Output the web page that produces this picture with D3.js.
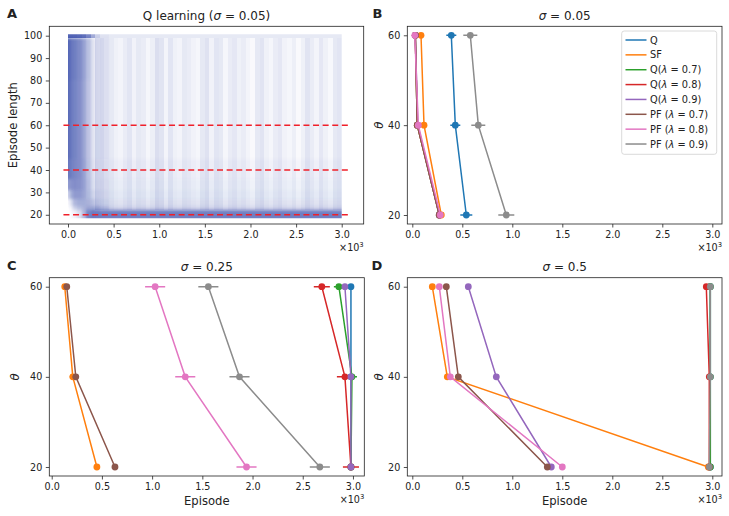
<!DOCTYPE html>
<html>
<head>
<meta charset="utf-8">
<script src="https://cdn.jsdelivr.net/npm/d3@7"></script>
<style>
  body { margin: 0; background: #fff; }
  svg { display: block; font-family: "DejaVu Sans", sans-serif; }
</style>
</head>
<body>
<svg id="chart" width="729" height="516"></svg>
<script>
// ---- data ----
const thetas = [60, 40, 20];
const seriesNames = ["Q", "SF", "Q(λ = 0.7)", "Q(λ = 0.8)", "Q(λ = 0.9)",
  "PF (λ = 0.7)", "PF (λ = 0.8)", "PF (λ = 0.9)"];
const seriesColors = ["#1f77b4", "#ff7f0e", "#2ca02c", "#d62728", "#9467bd",
  "#8c564b", "#e377c2", "#8c8c8c"];

// mean episode (x10^3) at theta = 60, 40, 20
const meanSigma005 = [
  [0.39, 0.43, 0.54], [0.087, 0.117, 0.29], [0.03, 0.05, 0.27], [0.03, 0.05, 0.27],
  [0.03, 0.055, 0.27], [0.03, 0.05, 0.27], [0.025, 0.06, 0.28], [0.58, 0.66, 0.94]
];
const errSigma005 = [
  [0.05, 0.05, 0.06], [0.02, 0.02, 0.02], [0.01, 0.01, 0.02], [0.01, 0.01, 0.02],
  [0.01, 0.01, 0.02], [0.01, 0.01, 0.02], [0.01, 0.01, 0.02], [0.07, 0.07, 0.08]
];
const meanSigma025 = [
  [2.98, 2.98, 2.98], [0.13, 0.21, 0.45], [2.86, 2.99, 2.98], [2.69, 2.92, 2.98],
  [2.92, 2.98, 2.98], [0.15, 0.24, 0.63], [1.03, 1.33, 1.94], [1.56, 1.87, 2.67]
];
const errSigma025 = [
  [0.02, 0.02, 0.02], [0.02, 0.03, 0.03], [0.05, 0.05, 0.02], [0.08, 0.08, 0.08],
  [0.03, 0.02, 0.02], [0.02, 0.03, 0.03], [0.1, 0.1, 0.1], [0.1, 0.1, 0.1]
];
const meanSigma05 = [
  [2.98, 2.98, 2.98], [0.20, 0.35, 2.96], [2.98, 2.98, 2.98], [2.94, 2.97, 2.97],
  [0.56, 0.84, 1.39], [0.34, 0.46, 1.35], [0.27, 0.38, 1.50], [2.98, 2.98, 2.97]
];
const errSigma05 = [
  [0.01, 0.01, 0.01], [0.02, 0.02, 0.02], [0.01, 0.01, 0.01], [0.01, 0.01, 0.01],
  [0.02, 0.02, 0.02], [0.02, 0.02, 0.02], [0.02, 0.02, 0.02], [0.01, 0.01, 0.01]
];

// panel A: density of Q-learning runs (opacity), episode-length bands x episode bins
const lengthBandEdges = [18.5, 22, 24, 27, 31, 36, 45, 60, 80, 99];
const episodeBinEdges = [0, 0.025, 0.05, 0.1, 0.15, 0.2, 0.25, 0.3, 0.35, 0.45, 3.0];
const bandDensity = [
  [0.00, 0.02, 0.08, 0.18, 0.40, 0.68, 0.74, 0.72, 0.70, 0.70], // 18.5-22
  [0.00, 0.08, 0.25, 0.35, 0.42, 0.50, 0.50, 0.42, 0.30, 0.18], // 22-24
  [0.05, 0.20, 0.40, 0.45, 0.45, 0.42, 0.35, 0.22, 0.15, 0.10], // 24-27
  [0.25, 0.45, 0.55, 0.55, 0.50, 0.38, 0.24, 0.14, 0.10, 0.06], // 27-31
  [0.55, 0.60, 0.62, 0.60, 0.52, 0.36, 0.20, 0.10, 0.07, 0.04], // 31-36
  [0.75, 0.70, 0.66, 0.62, 0.52, 0.34, 0.18, 0.08, 0.05, 0.02], // 36-45
  [0.80, 0.72, 0.68, 0.62, 0.50, 0.32, 0.16, 0.06, 0.03, 0.00], // 45-60
  [0.82, 0.74, 0.68, 0.62, 0.50, 0.32, 0.16, 0.05, 0.02, 0.00], // 60-80
  [0.84, 0.76, 0.70, 0.64, 0.52, 0.34, 0.16, 0.05, 0.02, 0.00]  // 80-99
];
// the capped runs at length 100, same episode bins
const cappedDensity = [0.85, 0.85, 0.84, 0.82, 0.78, 0.66, 0.45, 0.25, 0.16, 0.12];
// vertical streak strength, 0.05-wide episode bins from 0.3 to 3.0
const streakStrength = [
  0.18, 0.20, 0.15, 0.12, 0.08, 0.06, 0.10, 0.14, 0.07, 0.12,
  0.10, 0.05, 0.09, 0.18, 0.15, 0.06, 0.14, 0.08, 0.06, 0.12,
  0.10, 0.07, 0.05, 0.12, 0.16, 0.07, 0.14, 0.12, 0.05, 0.10,
  0.13, 0.08, 0.10, 0.06, 0.03, 0.12, 0.15, 0.08, 0.05, 0.10,
  0.13, 0.07, 0.05, 0.09, 0.03, 0.08, 0.15, 0.10, 0.06, 0.13,
  0.08, 0.04, 0.12, 0.14
];
const thresholds = [20, 40, 60];
const episodeTicks = [0, 0.5, 1.0, 1.5, 2.0, 2.5, 3.0];
const lengthTicks = [20, 30, 40, 50, 60, 70, 80, 90, 100];

// ---- drawing ----
const svg = d3.select("#chart");
const ink = "#222";
const runBlue = "#3549a8";

function richText(sel, str) {
  str.split(/([σλθ])/).filter(s => s.length).forEach(s => {
    sel.append("tspan").attr("font-style", /[σλθ]/.test(s) ? "italic" : null).text(s);
  });
  return sel;
}

function makePanel(id, x0, x1, y0, y1, xDom, yDom) {
  const x = d3.scaleLinear().domain(xDom).range([x0, x1]);
  const y = d3.scaleLinear().domain(yDom).range([y1, y0]);
  svg.append("clipPath").attr("id", "clip" + id)
    .append("rect").attr("x", x0).attr("y", y0).attr("width", x1 - x0).attr("height", y1 - y0);
  const g = svg.append("g").attr("clip-path", `url(#clip${id})`);
  return { id, x0, x1, y0, y1, x, y, g };
}

function finishPanel(p, yTicks, letter, title, xLabel, yLabel, yLabelX) {
  const gx = svg.append("g").attr("transform", `translate(0,${p.y1})`)
    .call(d3.axisBottom(p.x).tickValues(episodeTicks).tickSize(3.5).tickPadding(3.5)
      .tickFormat(d3.format(".1f")));
  const gy = svg.append("g").attr("transform", `translate(${p.x0},0)`)
    .call(d3.axisLeft(p.y).tickValues(yTicks).tickSize(3.5).tickPadding(3.5)
      .tickFormat(d3.format("d")));
  [gx, gy].forEach(a => {
    a.select(".domain").remove();
    a.selectAll("line").attr("stroke", ink).attr("stroke-width", 0.8);
    a.selectAll("text").attr("fill", ink).attr("font-size", 9.6)
      .attr("font-family", "DejaVu Sans");
  });
  svg.append("rect").attr("x", p.x0).attr("y", p.y0)
    .attr("width", p.x1 - p.x0).attr("height", p.y1 - p.y0)
    .attr("fill", "none").attr("stroke", ink).attr("stroke-width", 0.8);

  // offset text x10^3
  const off = svg.append("text").attr("x", p.x1).attr("y", p.y1 + 27)
    .attr("text-anchor", "end").attr("font-size", 9.6).attr("fill", ink);
  off.append("tspan").text("×10");
  off.append("tspan").attr("font-size", 6.8).attr("dy", -4).text("3");

  richText(svg.append("text").attr("x", (p.x0 + p.x1) / 2).attr("y", p.y0 - 6.5)
    .attr("text-anchor", "middle").attr("font-size", 12).attr("fill", ink), title);
  svg.append("text").attr("class", "letter").attr("x", letter.x).attr("y", letter.y)
    .attr("font-size", 13).attr("font-weight", "bold").attr("fill", ink).text(letter.t);
  if (xLabel) {
    svg.append("text").attr("x", (p.x0 + p.x1) / 2).attr("y", p.y1 + 28.5)
      .attr("text-anchor", "middle").attr("font-size", 11.6).attr("fill", ink).text(xLabel);
  }
  richText(svg.append("text")
    .attr("transform", `translate(${yLabelX},${(p.y0 + p.y1) / 2}) rotate(-90)`)
    .attr("text-anchor", "middle").attr("font-size", 11.6).attr("fill", ink), yLabel);
}

// ---- panel A ----
const pA = makePanel("A", 49.3, 363.7, 26.3, 224, [-0.205, 3.241], [15.88, 104.2]);
const defs = svg.append("defs");
defs.append("filter").attr("id", "soft").attr("x", "-5%").attr("y", "-5%")
  .attr("width", "110%").attr("height", "110%")
  .append("feGaussianBlur").attr("stdDeviation", "1.2 1.6");
defs.append("clipPath").attr("id", "runArea").append("rect")
  .attr("x", pA.x(0)).attr("width", pA.x(3) - pA.x(0))
  .attr("y", pA.y(100.6)).attr("height", pA.y(18.5) - pA.y(100.6));

const runArea = pA.g.append("g").attr("clip-path", "url(#runArea)");
const dens = runArea.append("g").attr("filter", "url(#soft)");
lengthBandEdges.slice(0, -1).forEach((lo, bi) => {
  const hi = lengthBandEdges[bi + 1];
  episodeBinEdges.slice(0, -1).forEach((e0, ci) => {
    const e1 = episodeBinEdges[ci + 1];
    const o = bandDensity[bi][ci];
    if (o <= 0) return;
    // edge bins are stretched outward so the blur does not fade the clipped borders
    const xa = ci === 0 ? -0.1 : e0, xb = ci === episodeBinEdges.length - 2 ? 3.1 : e1;
    const ya = bi === 0 ? 16 : lo;
    dens.append("rect").attr("shape-rendering", "crispEdges")
      .attr("x", pA.x(xa)).attr("width", pA.x(xb) - pA.x(xa))
      .attr("y", pA.y(hi)).attr("height", pA.y(ya) - pA.y(hi))
      .attr("fill", runBlue).attr("fill-opacity", o);
  });
});
runArea.selectAll("rect.streak").data(streakStrength).join("rect")
  .attr("class", "streak").attr("shape-rendering", "crispEdges")
  .attr("x", (d, i) => pA.x(0.3 + i * 0.05))
  .attr("width", pA.x(0.05) - pA.x(0))
  .attr("y", pA.y(99)).attr("height", pA.y(22) - pA.y(99))
  .attr("fill", runBlue).attr("fill-opacity", d => d);
runArea.selectAll("rect.cap").data(cappedDensity).join("rect")
  .attr("class", "cap").attr("shape-rendering", "crispEdges")
  .attr("x", (d, i) => pA.x(episodeBinEdges[i]))
  .attr("width", (d, i) => pA.x(episodeBinEdges[i + 1]) - pA.x(episodeBinEdges[i]))
  .attr("y", pA.y(100.6)).attr("height", pA.y(99) - pA.y(100.6))
  .attr("fill", runBlue).attr("fill-opacity", d => d);

pA.g.selectAll("line.thr").data(thresholds).join("line")
  .attr("class", "thr")
  .attr("x1", pA.x(-0.05)).attr("x2", pA.x(3.1))
  .attr("y1", d => pA.y(d)).attr("y2", d => pA.y(d))
  .attr("stroke", "#f0202a").attr("stroke-width", 1.6).attr("stroke-dasharray", "6,3.6");
finishPanel(pA, lengthTicks, { x: 7, y: 18.3, t: "A" }, "Q learning (σ = 0.05)", null, "Episode length", 16.5);

// ---- panels B, C, D ----
function drawSeries(p, means, errs) {
  means.forEach((m, si) => {
    const c = seriesColors[si];
    const pts = m.map((v, k) => [v, thetas[k], errs[si][k]]);
    p.g.append("path").datum(pts)
      .attr("d", d3.line().x(d => p.x(d[0])).y(d => p.y(d[1])))
      .attr("fill", "none").attr("stroke", c).attr("stroke-width", 1.5);
    p.g.selectAll(null).data(pts).join("line")
      .attr("x1", d => p.x(d[0] - d[2])).attr("x2", d => p.x(d[0] + d[2]))
      .attr("y1", d => p.y(d[1])).attr("y2", d => p.y(d[1]))
      .attr("stroke", c).attr("stroke-width", 1.5);
    p.g.selectAll(null).data(pts).join("circle")
      .attr("cx", d => p.x(d[0])).attr("cy", d => p.y(d[1])).attr("r", 3.4)
      .attr("fill", c);
  });
}

const pB = makePanel("B", 407.3, 722, 26.3, 224, [-0.05, 3.097], [18, 62]);
drawSeries(pB, meanSigma005, errSigma005);
finishPanel(pB, thetas, { x: 372.5, y: 18.3, t: "B" }, "σ = 0.05", null, "θ", 383);

const pC = makePanel("C", 49.3, 364.3, 277.7, 476, [-0.024, 3.113], [18, 62]);
drawSeries(pC, meanSigma025, errSigma025);
finishPanel(pC, thetas, { x: 7, y: 270, t: "C" }, "σ = 0.25", "Episode", "θ", 19.3);

const pD = makePanel("D", 407.3, 722, 277.7, 476, [-0.05, 3.097], [18, 62]);
drawSeries(pD, meanSigma05, errSigma05);
finishPanel(pD, thetas, { x: 371.5, y: 270, t: "D" }, "σ = 0.5", "Episode", "θ", 383);

// legend in panel B
const lg = svg.append("g");
lg.append("rect").attr("x", 621.7).attr("y", 31).attr("width", 95).attr("height", 123.3)
  .attr("rx", 2.5).attr("fill", "#fff").attr("fill-opacity", 0.8)
  .attr("stroke", "#d0d0d0").attr("stroke-width", 0.8);
seriesNames.forEach((name, i) => {
  const yy = 40 + i * 14.86;
  lg.append("line").attr("x1", 625.5).attr("x2", 646.5).attr("y1", yy).attr("y2", yy)
    .attr("stroke", seriesColors[i]).attr("stroke-width", 1.5);
  richText(lg.append("text").attr("x", 650).attr("y", yy + 3.5)
    .attr("font-size", 9.8).attr("fill", ink), name);
});
</script>
</body>
</html>
